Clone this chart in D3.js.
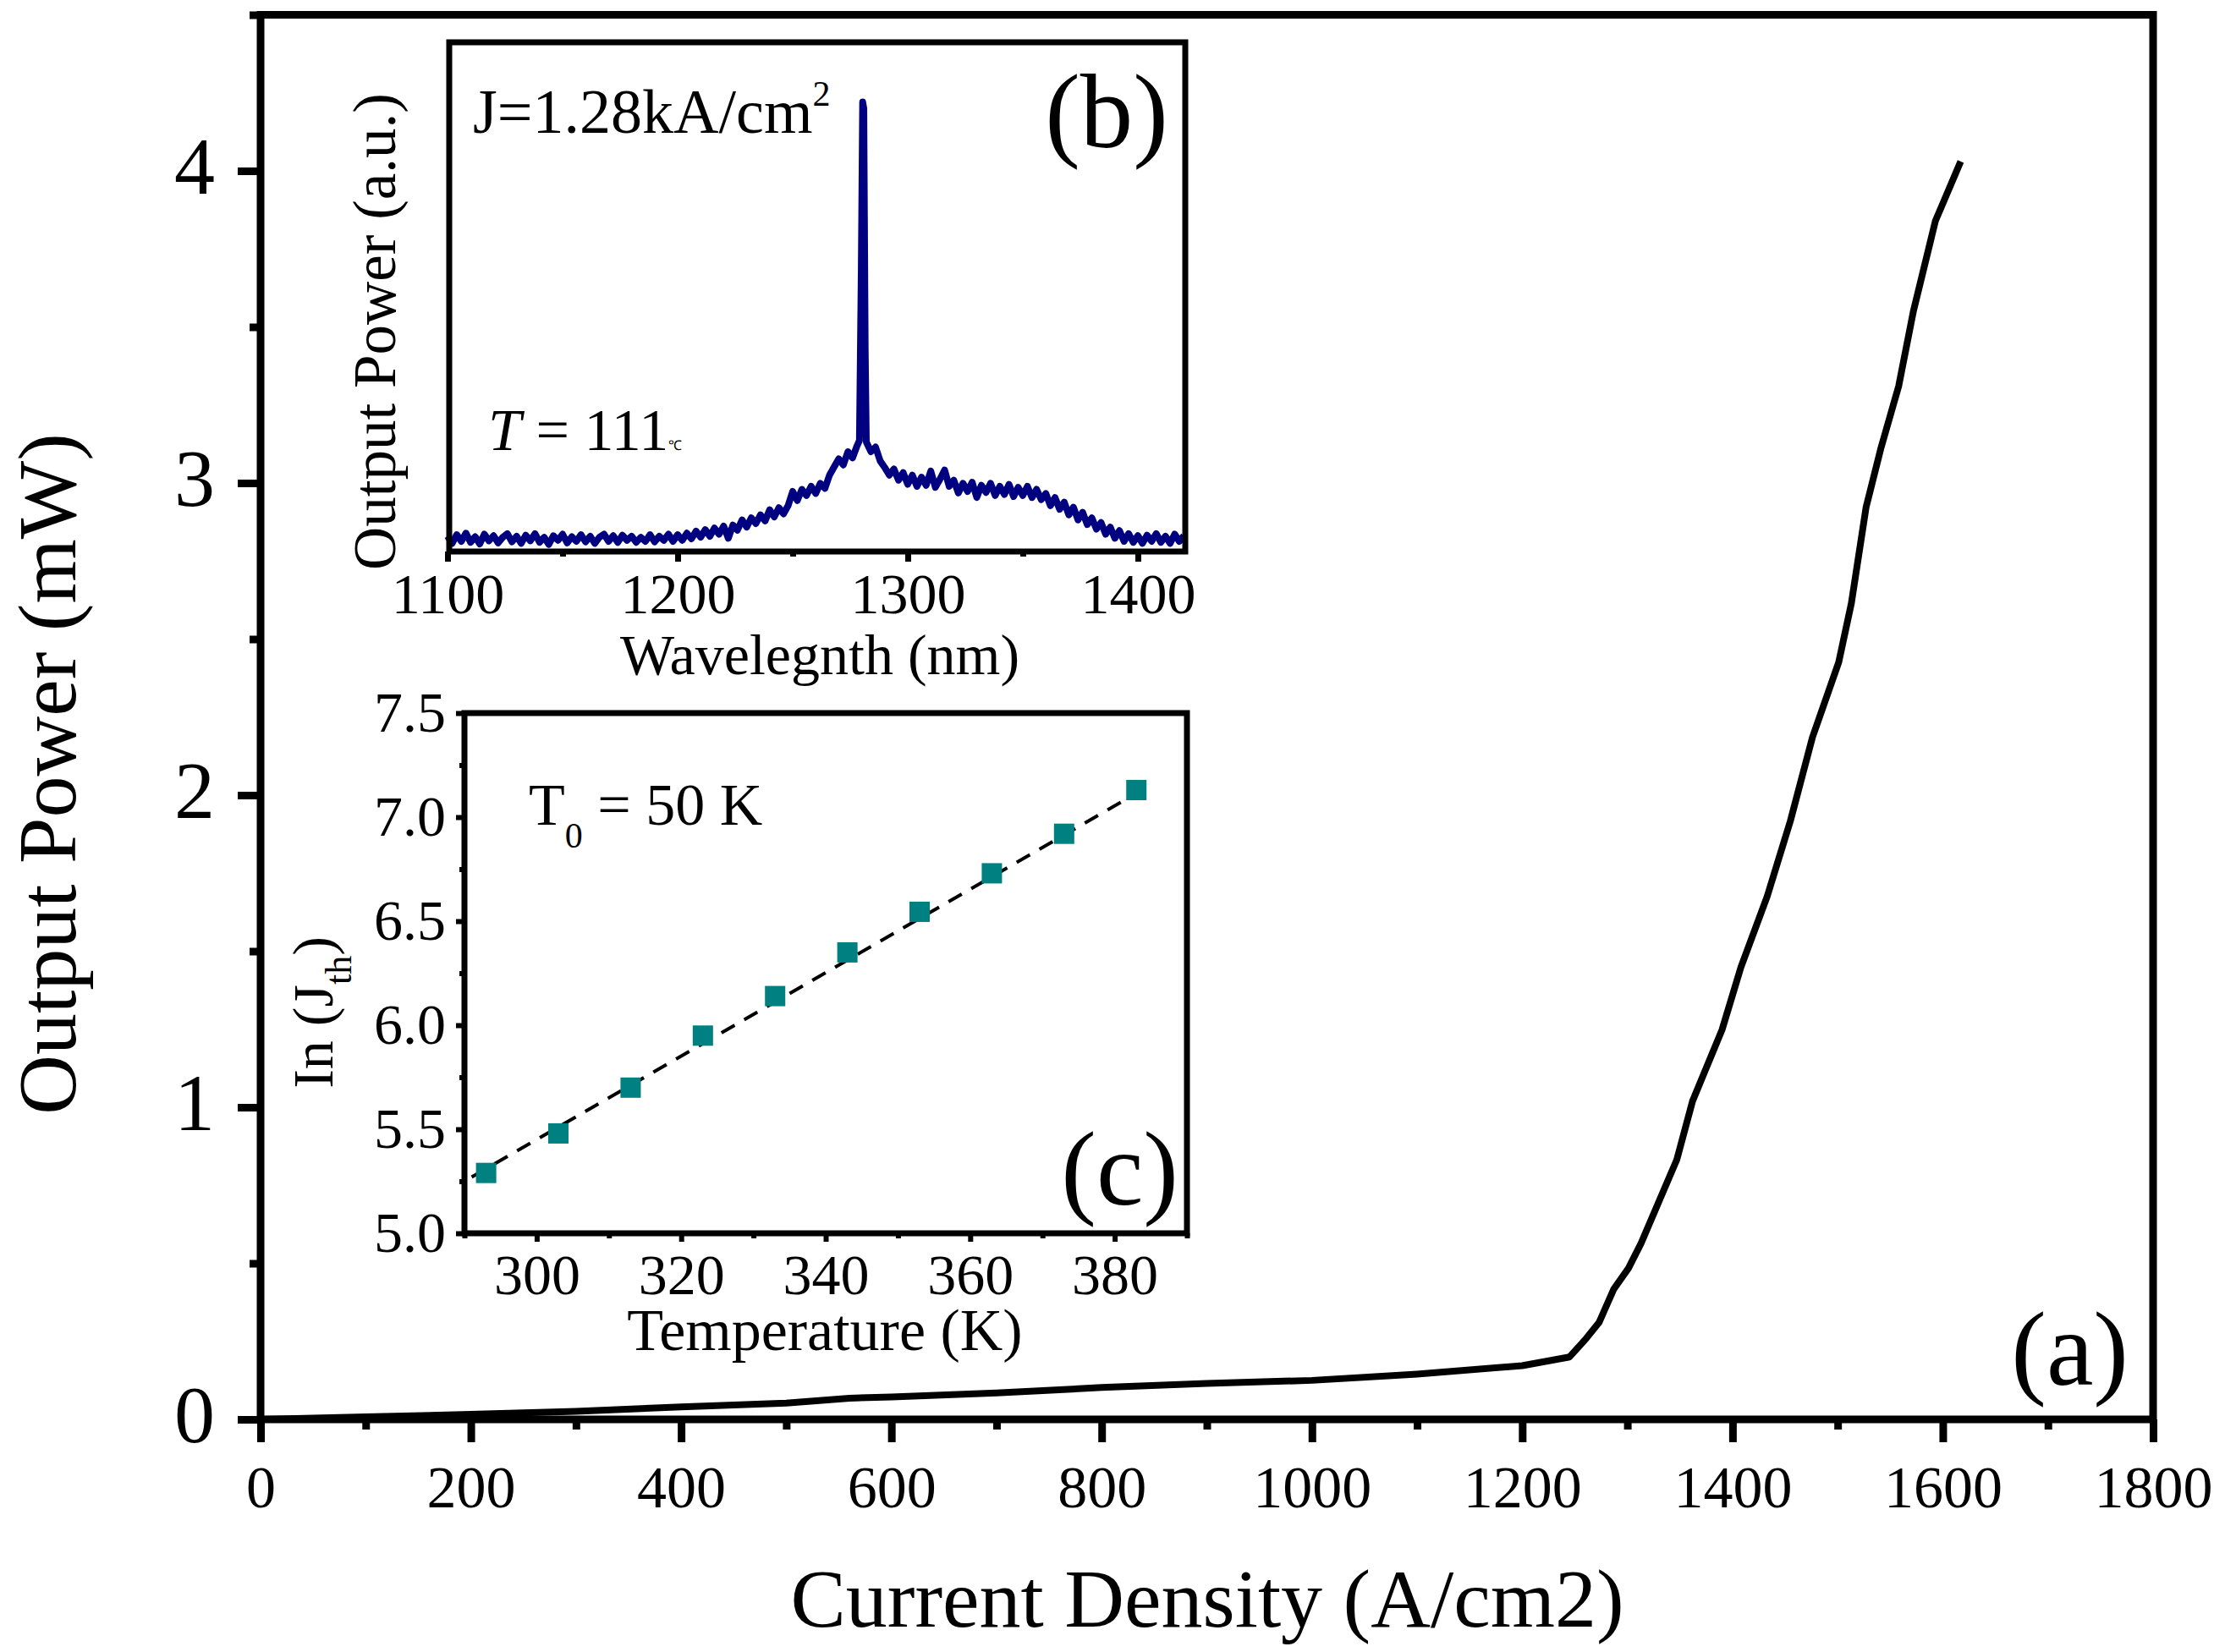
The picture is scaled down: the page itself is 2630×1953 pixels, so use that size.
<!DOCTYPE html>
<html>
<head>
<meta charset="utf-8">
<script src="https://cdn.jsdelivr.net/npm/d3@7"></script>
<style>
  body { margin: 0; background: #fff; }
  text { font-family: "Liberation Serif", "Times New Roman", serif; fill: #000; }
</style>
</head>
<body>
<svg id="chart" width="2630" height="1953"></svg>
<script>
// (a) light-current curve
const currentDensity = [0, 100, 200, 300, 400, 500, 560, 600, 700, 800, 900, 1000, 1100, 1200, 1245,
  1261, 1273, 1287, 1301, 1313, 1347, 1362, 1390, 1408, 1433, 1455, 1476, 1501, 1513, 1527,
  1541, 1558, 1572, 1593, 1617];
const outputPower = [0, 0.008, 0.016, 0.026, 0.04, 0.052, 0.068, 0.072, 0.085, 0.102, 0.115, 0.125, 0.145, 0.172, 0.2,
  0.26, 0.31, 0.417, 0.484, 0.564, 0.832, 1.02, 1.248, 1.449, 1.676, 1.917, 2.185, 2.426, 2.614, 2.922,
  3.11, 3.31, 3.55, 3.84, 4.03];

// (b) lasing spectrum, [wavelength nm, power a.u.]
const spectrum = [
  [1100,0.030],[1102,0.016],[1104,0.033],[1106,0.020],[1108,0.036],[1110,0.018],[1112,0.029],[1114,0.015],
  [1116,0.034],[1118,0.021],[1120,0.031],[1122,0.017],[1124,0.028],[1126,0.035],[1128,0.019],[1130,0.030],
  [1132,0.016],[1134,0.032],[1136,0.021],[1138,0.035],[1140,0.018],[1142,0.028],[1144,0.014],[1146,0.031],
  [1148,0.022],[1150,0.034],[1152,0.017],[1154,0.029],[1156,0.020],[1158,0.033],[1160,0.019],[1162,0.030],
  [1164,0.016],[1166,0.028],[1168,0.034],[1170,0.020],[1172,0.031],[1174,0.018],[1176,0.032],[1178,0.022],
  [1180,0.030],[1182,0.018],[1184,0.028],[1186,0.020],[1188,0.033],[1190,0.019],[1192,0.030],[1194,0.022],
  [1196,0.034],[1198,0.020],[1200,0.033],[1202,0.022],[1204,0.036],[1206,0.025],[1208,0.040],[1210,0.028],
  [1212,0.043],[1214,0.030],[1216,0.046],[1218,0.034],[1220,0.050],[1222,0.026],[1224,0.052],[1226,0.042],
  [1228,0.062],[1230,0.048],[1232,0.066],[1234,0.055],[1236,0.072],[1238,0.060],[1240,0.082],[1242,0.068],
  [1244,0.086],[1246,0.074],[1248,0.090],[1250,0.118],[1252,0.100],[1254,0.122],[1256,0.110],[1258,0.128],
  [1260,0.114],[1262,0.134],[1264,0.124],[1266,0.150],[1268,0.166],[1270,0.182],[1272,0.170],[1274,0.196],
  [1276,0.184],[1278,0.208],[1279,0.218],[1279.8,0.55],[1280.4,0.883],[1280.9,0.87],[1281.5,0.40],[1282,0.215],
  [1284,0.196],[1286,0.205],[1288,0.178],[1290,0.165],[1292,0.150],[1294,0.162],[1296,0.140],[1298,0.155],
  [1300,0.132],[1302,0.150],[1304,0.128],[1306,0.146],[1308,0.130],[1310,0.158],[1312,0.126],[1314,0.142],
  [1316,0.160],[1318,0.128],[1320,0.140],[1322,0.115],[1324,0.134],[1326,0.118],[1328,0.136],[1330,0.106],
  [1332,0.130],[1334,0.116],[1336,0.134],[1338,0.110],[1340,0.128],[1342,0.112],[1344,0.132],[1346,0.108],
  [1348,0.126],[1350,0.110],[1352,0.128],[1354,0.106],[1356,0.122],[1358,0.102],[1360,0.114],[1362,0.090],
  [1364,0.106],[1366,0.083],[1368,0.097],[1370,0.072],[1372,0.087],[1374,0.062],[1376,0.077],[1378,0.053],
  [1380,0.066],[1382,0.044],[1384,0.057],[1386,0.034],[1388,0.048],[1390,0.026],[1392,0.041],[1394,0.020],
  [1396,0.035],[1398,0.018],[1400,0.031],[1402,0.016],[1404,0.032],[1406,0.020],[1408,0.035],[1410,0.018],
  [1412,0.030],[1414,0.016],[1416,0.034],[1418,0.020],[1420,0.031]
];

// (c) threshold vs temperature
const temperature = [293, 303, 313, 323, 333, 343, 353, 363, 373, 383];
const lnJth = [5.29, 5.48, 5.70, 5.95, 6.14, 6.35, 6.545, 6.73, 6.92, 7.13];
const fitT = [291, 384.5];
const fitLn = [5.27, 7.145];

// tick values
const mainXMajor = [0, 200, 400, 600, 800, 1000, 1200, 1400, 1600, 1800];
const mainXMinor = [100, 300, 500, 700, 900, 1100, 1300, 1500, 1700];
const mainYMajor = [0, 1, 2, 3, 4];
const mainYMinor = [0.5, 1.5, 2.5, 3.5, 4.5];
const specXMajor = [1100, 1200, 1300, 1400];
const specXMinor = [1150, 1250, 1350];
const tXMajor = [300, 320, 340, 360, 380];
const tXMinor = [290, 310, 330, 350, 370, 390];
const tYMajor = [5.0, 5.5, 6.0, 6.5, 7.0, 7.5];
const tYMinor = [5.25, 5.75, 6.25, 6.75, 7.25];

const svg = d3.select("#chart");
svg.append("rect").attr("width", 2630).attr("height", 1953).attr("fill", "#fff");

// draws ticks of one axis, labels only on major ticks
function ticks(g, axisFn, scale, major, minor, majorLen, minorLen, width, fmt) {
  const maj = g.append("g").call(axisFn(scale).tickValues(major).tickSize(majorLen).tickSizeOuter(0).tickFormat(fmt));
  const min = g.append("g").call(axisFn(scale).tickValues(minor).tickSize(minorLen).tickSizeOuter(0).tickFormat(""));
  [maj, min].forEach(a => {
    a.select(".domain").remove();
    a.attr("font-family", null).attr("font-size", null);
    a.selectAll("line").attr("stroke", "#000").attr("stroke-width", width);
  });
  return maj;
}

// ---------- main panel (a) ----------
const x = d3.scaleLinear().domain([0, 1800]).range([308, 2545]);
const y = d3.scaleLinear().domain([0, 4.5]).range([1678, 17.5]);

const gx = svg.append("g").attr("transform", `translate(0,${y(0)})`);
ticks(gx, d3.axisBottom, x, mainXMajor, mainXMinor, 27, 12, 9, d3.format("d"))
  .selectAll("text").attr("y", 104).attr("dy", null).attr("font-size", 70);

const gy = svg.append("g").attr("transform", `translate(${x(0)},0)`);
ticks(gy, d3.axisLeft, y, mainYMajor, mainYMinor, 27, 13, 9, d3.format("d"))
  .selectAll("text").attr("x", -54).attr("dy", 26).attr("font-size", 96);

svg.append("rect")
  .attr("x", x(0)).attr("y", y(4.5))
  .attr("width", x(1800) - x(0)).attr("height", y(0) - y(4.5))
  .attr("fill", "none").attr("stroke", "#000").attr("stroke-width", 9);

svg.append("path")
  .datum(currentDensity.map((d, i) => [d, outputPower[i]]))
  .attr("fill", "none").attr("stroke", "#000").attr("stroke-width", 8)
  .attr("stroke-linejoin", "round")
  .attr("d", d3.line().x(d => x(d[0])).y(d => y(d[1])));

svg.append("text").attr("x", 1427).attr("y", 1923).attr("text-anchor", "middle")
  .attr("font-size", 98).text("Current Density (A/cm2)");
svg.append("text").attr("transform", "translate(89,915) rotate(-90)").attr("text-anchor", "middle")
  .attr("font-size", 98).text("Output Power (mW)");
svg.append("text").attr("x", 2516).attr("y", 1637).attr("text-anchor", "end")
  .attr("font-size", 125).text("(a)");

// ---------- inset (b) spectrum ----------
const xb = d3.scaleLinear().domain([1100, 1420.6]).range([529, 1401]);
const yb = d3.scaleLinear().domain([0, 1]).range([652, 50]);

svg.append("rect").attr("x", 531).attr("y", 50).attr("width", 870).attr("height", 602).attr("fill", "#fff");

const gxb = svg.append("g").attr("transform", `translate(0,${yb(0)})`);
ticks(gxb, d3.axisBottom, xb, specXMajor, specXMinor, 12, 6, 7, d3.format("d"))
  .selectAll("text").attr("y", 73).attr("dy", null).attr("font-size", 68);

svg.append("path")
  .datum(spectrum)
  .attr("fill", "none").attr("stroke", "#000080").attr("stroke-width", 8)
  .attr("stroke-linejoin", "round")
  .attr("d", d3.line().x(d => xb(d[0])).y(d => yb(d[1])));

svg.append("rect").attr("x", 531).attr("y", 50).attr("width", 870).attr("height", 602)
  .attr("fill", "none").attr("stroke", "#000").attr("stroke-width", 7);

svg.append("text").attr("x", 969).attr("y", 797).attr("text-anchor", "middle")
  .attr("font-size", 68).text("Wavelegnth (nm)");
svg.append("text").attr("transform", "translate(467,392) rotate(-90)").attr("text-anchor", "middle")
  .attr("font-size", 71).text("Output Power (a.u.)");

const jLabel = svg.append("text").attr("x", 559).attr("y", 157).attr("font-size", 74);
jLabel.append("tspan").text("J=1.28kA/cm");
jLabel.append("tspan").attr("dy", -32).attr("font-size", 42).text("2");

const tLabel = svg.append("text").attr("x", 577).attr("y", 532).attr("font-size", 70);
tLabel.append("tspan").attr("font-style", "italic").text("T");
tLabel.append("tspan").text(" = 111");
tLabel.append("tspan").attr("font-size", 16).text("℃");

svg.append("text").attr("x", 1381).attr("y", 174).attr("text-anchor", "end")
  .attr("font-size", 125).text("(b)");

// ---------- inset (c) ln(Jth) vs T ----------
const xc = d3.scaleLinear().domain([290, 390]).range([549, 1403]);
const yc = d3.scaleLinear().domain([5.0, 7.5]).range([1458, 843]);

svg.append("rect").attr("x", 549).attr("y", 843).attr("width", 854).attr("height", 615).attr("fill", "#fff");

const gxc = svg.append("g").attr("transform", `translate(0,${yc(5)})`);
ticks(gxc, d3.axisBottom, xc, tXMajor, tXMinor, 10, 6, 6, d3.format("d"))
  .selectAll("text").attr("y", 72).attr("dy", null).attr("font-size", 68);

const gyc = svg.append("g").attr("transform", `translate(${xc(290)},0)`);
ticks(gyc, d3.axisLeft, yc, tYMajor, tYMinor, 10, 6, 6, d3.format(".1f"))
  .selectAll("text").attr("x", -22).attr("dy", 21).attr("font-size", 68);

svg.append("rect").attr("x", 549).attr("y", 843).attr("width", 854).attr("height", 615)
  .attr("fill", "none").attr("stroke", "#000").attr("stroke-width", 7);

svg.append("path")
  .datum(fitT.map((d, i) => [d, fitLn[i]]))
  .attr("fill", "none").attr("stroke", "#000").attr("stroke-width", 4)
  .attr("stroke-dasharray", "18,13")
  .attr("d", d3.line().x(d => xc(d[0])).y(d => yc(d[1])));

svg.append("g").selectAll("rect")
  .data(temperature.map((d, i) => [d, lnJth[i]]))
  .join("rect")
  .attr("x", d => xc(d[0]) - 12).attr("y", d => yc(d[1]) - 12)
  .attr("width", 24).attr("height", 24).attr("fill", "#008080");

const t0 = svg.append("text").attr("x", 625).attr("y", 975).attr("font-size", 70);
t0.append("tspan").text("T");
t0.append("tspan").attr("dy", 27).attr("font-size", 42).text("0");
t0.append("tspan").attr("dy", -27).text(" = 50 K");

svg.append("text").attr("x", 975).attr("y", 1596).attr("text-anchor", "middle")
  .attr("font-size", 70).text("Temperature (K)");

const lnLabel = svg.append("text").attr("transform", "translate(393,1197) rotate(-90)")
  .attr("text-anchor", "middle").attr("font-size", 68);
lnLabel.append("tspan").text("In (J");
lnLabel.append("tspan").attr("dy", 22).attr("font-size", 44).text("th");
lnLabel.append("tspan").attr("dy", -22).text(")");

svg.append("text").attr("x", 1393).attr("y", 1424).attr("text-anchor", "end")
  .attr("font-size", 125).text("(c)");
</script>
</body>
</html>
